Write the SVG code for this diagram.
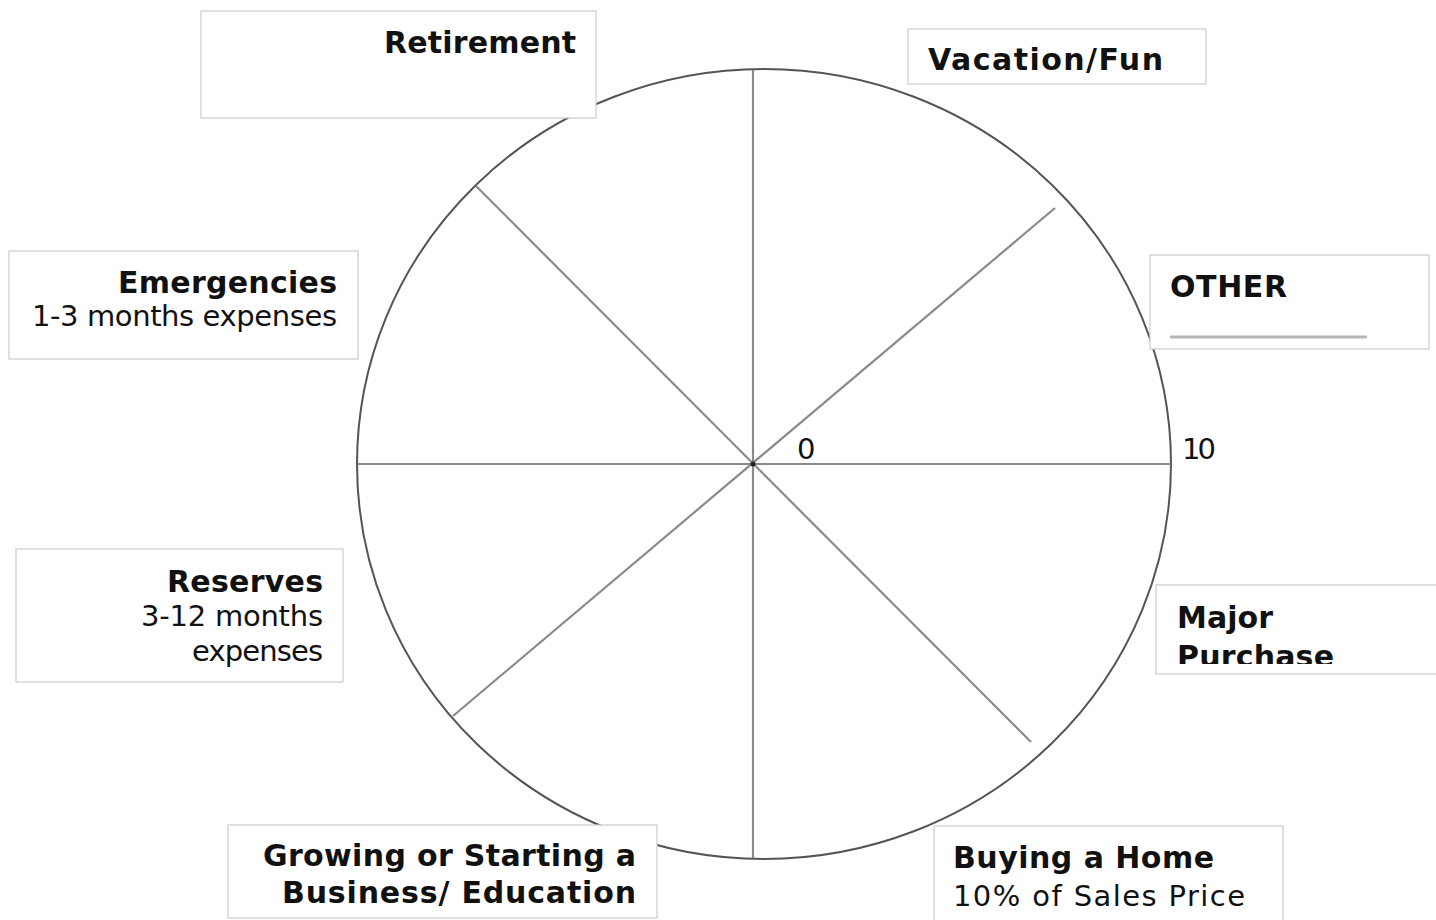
<svg xmlns="http://www.w3.org/2000/svg" width="1436" height="920" viewBox="0 0 1436 920">
<style>
.box{fill:#fff;stroke:#cccccc;stroke-width:1.2}
.b{font-family:"DejaVu Sans","Liberation Sans",sans-serif;font-weight:bold;font-size:30px;fill:#111}
.r{font-family:"DejaVu Sans","Liberation Sans",sans-serif;font-size:29px;fill:#111}
.spoke{stroke:#8a8a8a;stroke-width:2.2;fill:none}
.end{text-anchor:end}
</style>
<defs>
<clipPath id="mpclip"><rect x="1156" y="585" width="280" height="79"/></clipPath>
</defs>
<rect width="1436" height="920" fill="#fff"/>
<g id="wheel">
<ellipse cx="764" cy="464" rx="407" ry="395" fill="none" stroke="#555" stroke-width="2"/>
</g>
<g id="connectors">
<line class="spoke" x1="753" y1="70" x2="753" y2="858"/>
<line class="spoke" x1="358" y1="464" x2="1171" y2="464"/>
<line class="spoke" x1="476" y1="186" x2="1031" y2="742"/>
<line class="spoke" x1="453" y1="716" x2="1055" y2="208"/>
<circle cx="753" cy="464" r="2.5" fill="#222"/>
</g>
<g id="scale">
<text class="r" x="797" y="459" font-size="27" textLength="16">0</text>
<text class="r" x="1182" y="459" font-size="27" textLength="34">10</text>
</g>
<g id="retirement">
<rect class="box" x="201" y="11" width="395" height="107"/>
<text class="b end" x="576" y="53" textLength="192">Retirement</text>
</g>
<g id="vacation">
<rect class="box" x="908" y="29" width="298" height="55"/>
<text class="b" x="928" y="70" textLength="235">Vacation/Fun</text>
</g>
<g id="other">
<rect class="box" x="1150" y="255" width="279" height="94"/>
<text class="b" x="1170" y="297" textLength="117">OTHER</text>
<line x1="1170" y1="337" x2="1367" y2="337" stroke="#b5b5b5" stroke-width="3"/>
</g>
<g id="emergencies">
<rect class="box" x="9" y="251" width="349" height="108"/>
<text class="b end" x="337" y="293" textLength="219">Emergencies</text>
<text class="r end" x="337" y="326" textLength="305">1-3 months expenses</text>
</g>
<g id="reserves">
<rect class="box" x="16" y="549" width="327" height="133"/>
<text class="b end" x="323" y="592" textLength="156">Reserves</text>
<text class="r end" x="323" y="626" textLength="182">3-12 months</text>
<text class="r end" x="323" y="661" textLength="131">expenses</text>
</g>
<g id="major-purchase">
<rect class="box" x="1156" y="585" width="290" height="89"/>
<g clip-path="url(#mpclip)">
<text class="b" x="1177" y="628" textLength="96">Major</text>
<text class="b" x="1177" y="667" textLength="157">Purchase</text>
</g>
</g>
<g id="growing">
<rect class="box" x="228" y="825" width="429" height="93"/>
<text class="b end" x="636" y="866" textLength="373">Growing or Starting a</text>
<text class="b end" x="636" y="903" textLength="354">Business/ Education</text>
</g>
<g id="home">
<rect class="box" x="934" y="826" width="349" height="100"/>
<text class="b" x="953" y="868" textLength="261">Buying a Home</text>
<text class="r" x="953" y="906" textLength="292">10% of Sales Price</text>
</g>
</svg>
